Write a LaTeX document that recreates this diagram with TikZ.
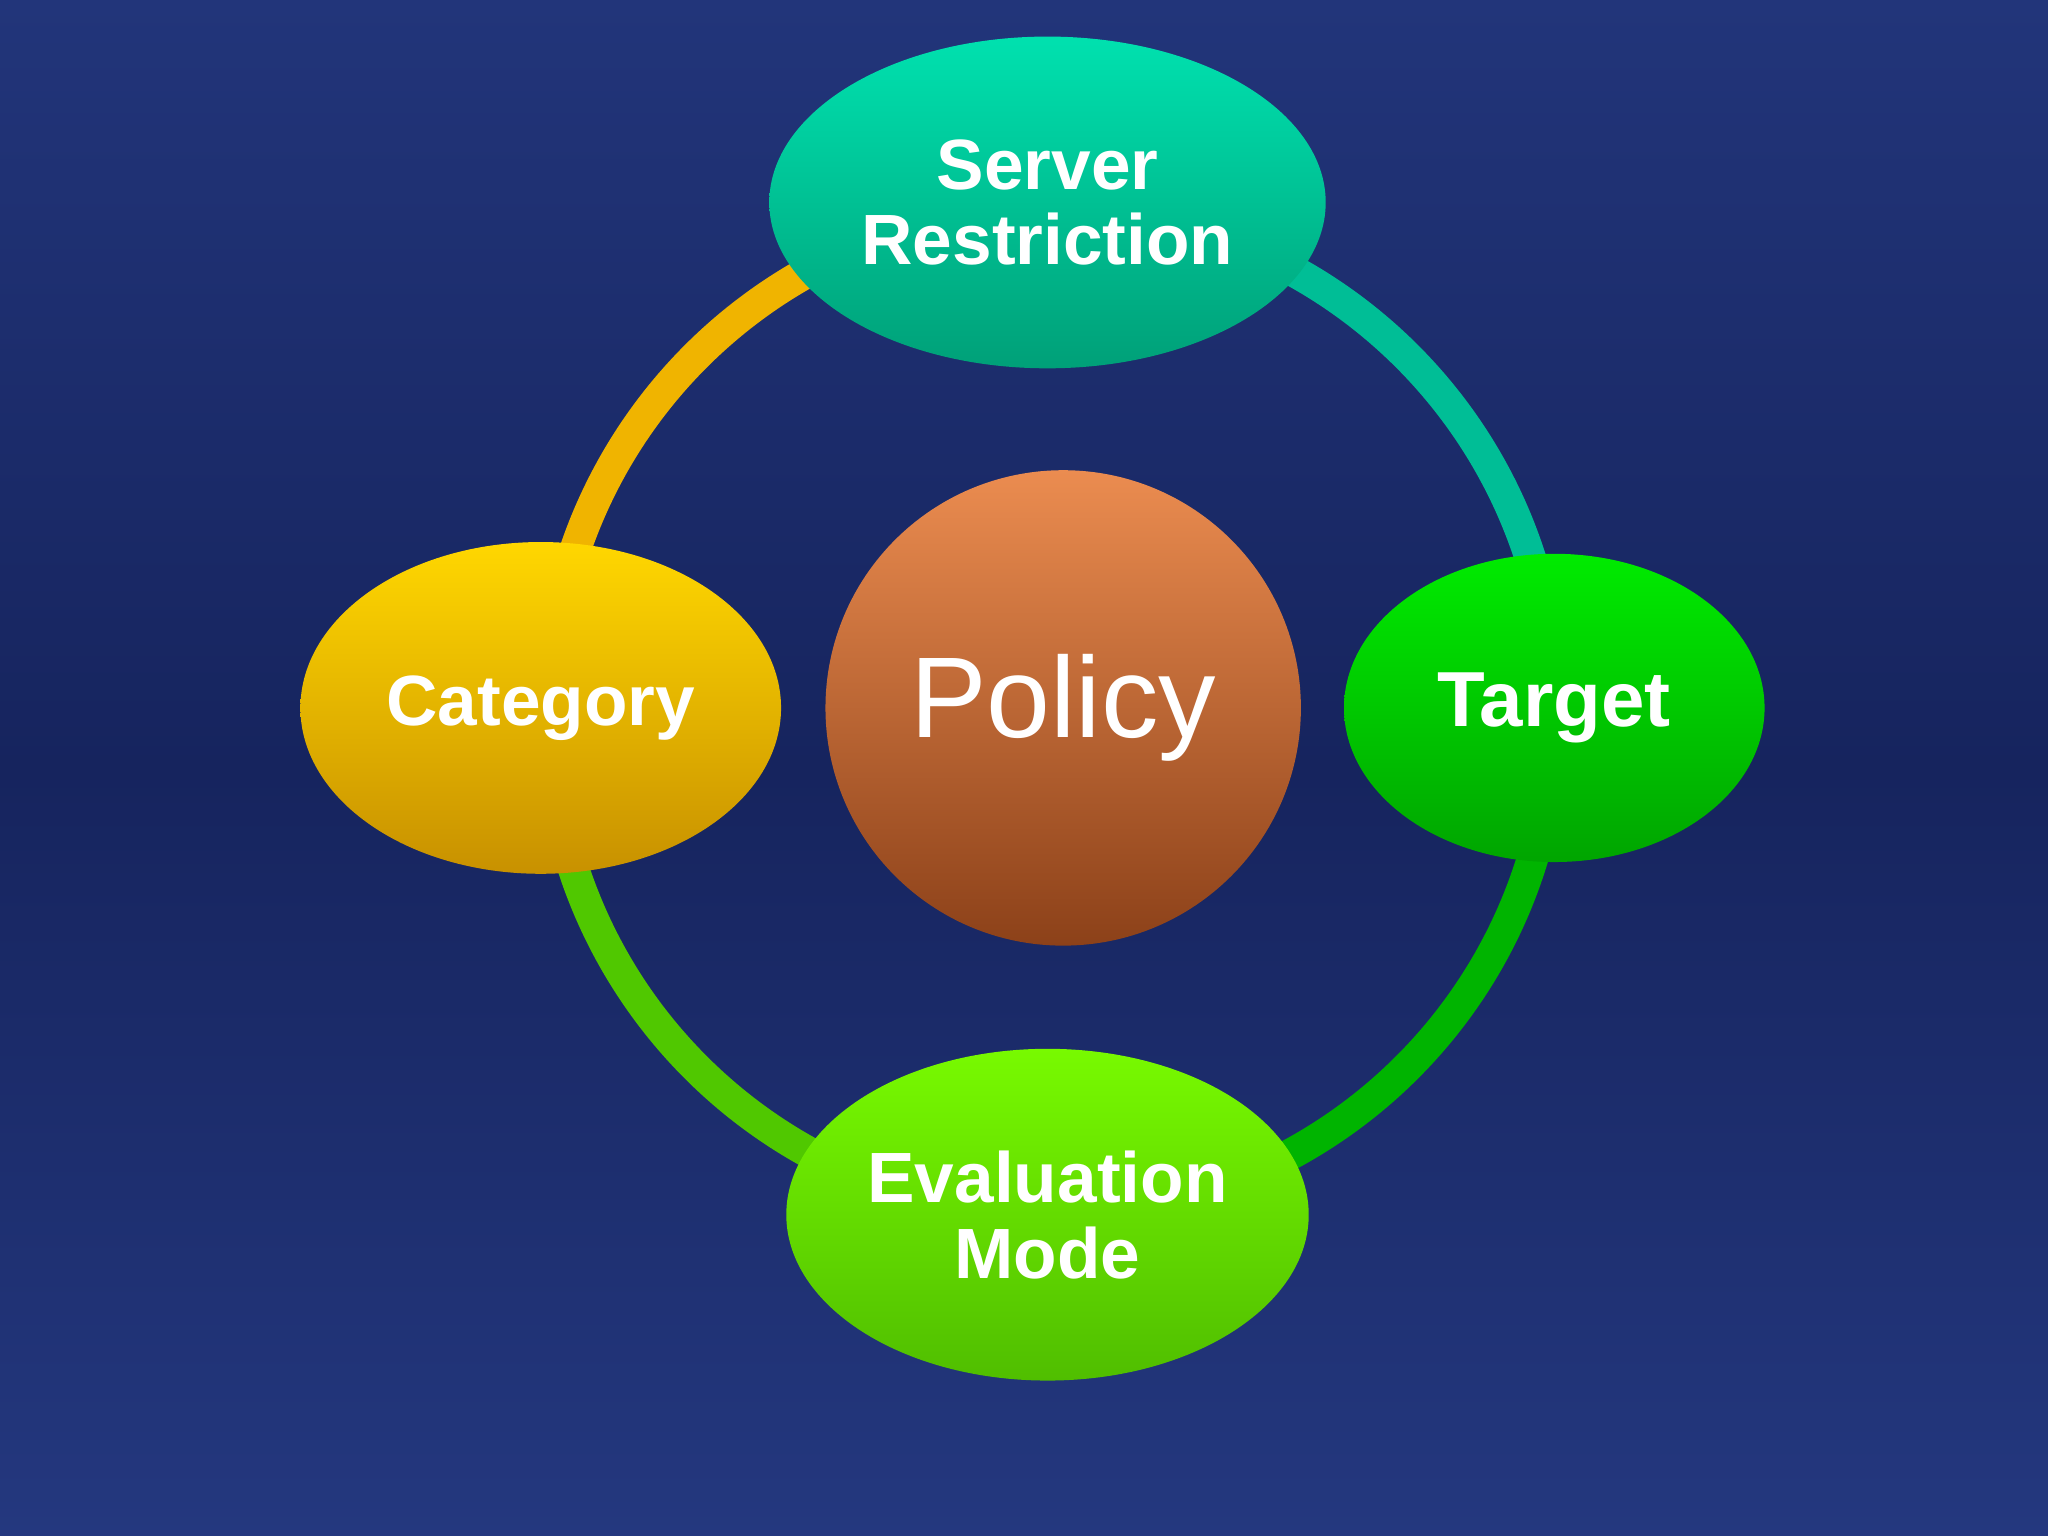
\documentclass[tikz,border=0pt]{standalone}
\usepackage{fontspec}
\setmainfont{Liberation Sans}
\usetikzlibrary{shapes.geometric}
\definecolor{bgdark}{HTML}{16245E}
\definecolor{bgmid}{HTML}{24387F}
\tikzset{
  blob/.style={ellipse, draw=none, text=white, font=\bfseries\fontsize{15.5}{16.5}\selectfont, align=center, inner sep=0pt},
  ringseg/.style={line width=0.24cm}
}
\begin{document}
\begin{tikzpicture}[x=0.01cm,y=-0.01cm]
\useasboundingbox (0,0) rectangle (1568,1176);
\shade[top color=bgmid!85!bgdark, bottom color=bgmid, middle color=bgdark] (0,0) rectangle (1568,1176);
\coordinate (c) at (805,545);
% ring segments (y axis points down)
\draw[ringseg, color={rgb,255:red,80;green,200;blue,0}] (c) ++(180:385) arc[start angle=180,end angle=90,radius=385];
\draw[ringseg, color={rgb,255:red,0;green,180;blue,0}] (c) ++(90:385) arc[start angle=90,end angle=0,radius=385];
\draw[ringseg, color={rgb,255:red,0;green,190;blue,150}] (c) ++(0:385) arc[start angle=0,end angle=-90,radius=385];
\draw[ringseg, color={rgb,255:red,240;green,180;blue,0}] (c) ++(-90:385) arc[start angle=-90,end angle=-180,radius=385];
% nodes
\node[blob, minimum width=426*0.01cm, minimum height=254*0.01cm,
  top color={rgb,255:red,0;green,225;blue,175}, bottom color={rgb,255:red,0;green,160;blue,120}]
  (srv) at (802,155) {Server\\Restriction};
\node[blob, minimum width=368*0.01cm, minimum height=254*0.01cm,
  top color={rgb,255:red,255;green,215;blue,0}, bottom color={rgb,255:red,200;green,145;blue,0}]
  (cat) at (414,542) {Category};
\node[blob, minimum width=322*0.01cm, minimum height=236*0.01cm,
  top color={rgb,255:red,0;green,235;blue,0}, bottom color={rgb,255:red,0;green,165;blue,0}]
  (tgt) at (1190,542) {\fontsize{17}{18}\selectfont Target};
\node[blob, minimum width=400*0.01cm, minimum height=254*0.01cm,
  top color={rgb,255:red,120;green,250;blue,0}, bottom color={rgb,255:red,80;green,190;blue,0}]
  (eval) at (802,930) {Evaluation\\Mode};
\node[circle, draw=none, minimum size=364*0.01cm, text=white,
  top color={rgb,255:red,235;green,140;blue,80}, bottom color={rgb,255:red,140;green,65;blue,25},
  font=\fontsize{25}{26}\selectfont] (pol) at (814,542) {Policy};
\end{tikzpicture}
\end{document}
